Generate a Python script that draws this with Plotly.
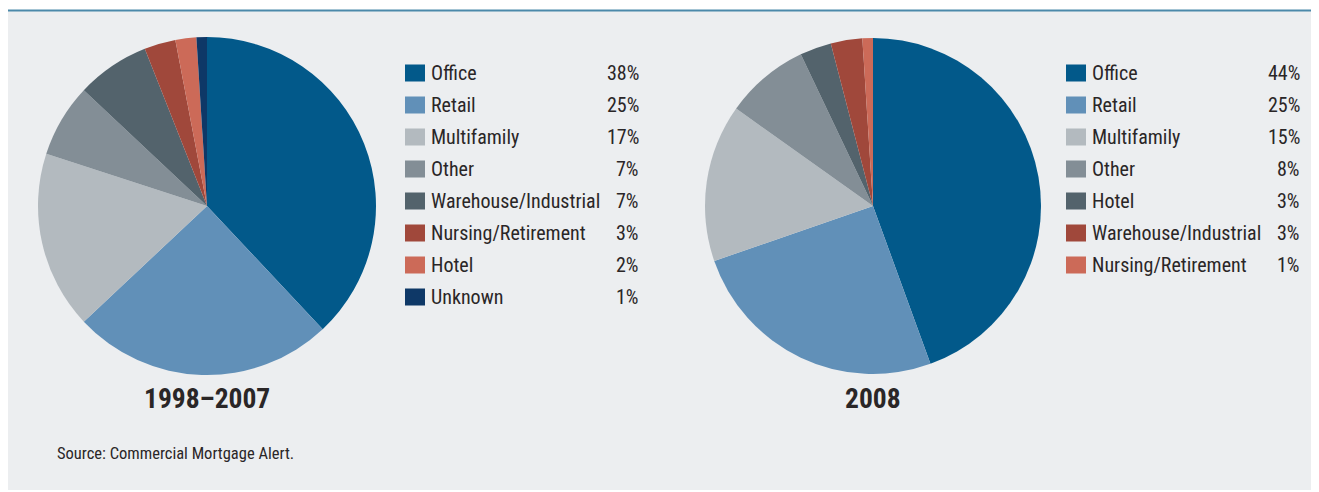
import plotly.graph_objects as go

# Page body adds an 8px margin, so the figure is placed at (8, 8) in the window.
OFF = 8
W, H = 1319 - OFF, 492 - OFF

labels_a = ["Office", "Retail", "Multifamily", "Other", "Warehouse/Industrial",
            "Nursing/Retirement", "Hotel", "Unknown"]
values_a = [38, 25, 17, 7, 7, 3, 2, 1]
colors_a = ["#02598a", "#6190b8", "#b3babf", "#838e96", "#53636c", "#a0483b", "#cc6a58", "#0e3867"]

labels_b = ["Office", "Retail", "Multifamily", "Other", "Hotel",
            "Warehouse/Industrial", "Nursing/Retirement"]
values_b = [44, 25, 15, 8, 3, 3, 1]
colors_b = ["#02598a", "#6190b8", "#b3babf", "#838e96", "#53636c", "#a0483b", "#cc6a58"]

titles = ["1998\u20132007", "2008"]
source = "Source: Commercial Mortgage Alert."

FONT = "Roboto Condensed, Liberation Sans Narrow, Roboto, sans-serif"
BG = "#eceef0"
TXT = "#2a2627"


def px(x):
    return (x - OFF) / W


def py(y):
    return 1 - (y - OFF) / H


fig = go.Figure()

pies = [
    (labels_a, values_a, colors_a, (207, 206), 169, 405, 641),
    (labels_b, values_b, colors_b, (873, 206), 168, 1066, 1302),
]

shapes = [
    dict(type="rect", xref="paper", yref="paper", x0=0, x1=1, y0=py(490), y1=py(11),
         fillcolor=BG, line=dict(width=0), layer="below"),
    dict(type="line", xref="paper", yref="paper", x0=0, x1=1, y0=py(10.5), y1=py(10.5),
         line=dict(color="#4b89aa", width=2)),
]
annotations = []

for i, (labs, vals, cols, (cx, cy), r, lx, rx) in enumerate(pies):
    fig.add_trace(go.Pie(
        labels=labs, values=vals, sort=False, direction="clockwise", rotation=0,
        marker=dict(colors=cols, line=dict(width=0)),
        textinfo="none", hoverinfo="label+percent", showlegend=False,
        domain=dict(x=[px(cx - r), px(cx + r)], y=[py(cy + r), py(cy - r)]),
    ))
    annotations.append(dict(
        x=px(cx), y=py(398), xref="paper", yref="paper", text="<b>%s</b>" % titles[i],
        showarrow=False, xanchor="center", yanchor="middle",
        font=dict(family=FONT, size=27.5, color=TXT)))
    for j, (lab, val, col) in enumerate(zip(labs, vals, cols)):
        yc = 73 + 32 * j
        shapes.append(dict(type="rect", xref="paper", yref="paper",
                           x0=px(lx), x1=px(lx + 20), y0=py(yc + 8.5), y1=py(yc - 8.5),
                           fillcolor=col, line=dict(width=0)))
        annotations.append(dict(
            x=px(lx + 24), y=py(yc), xref="paper", yref="paper", text=lab,
            showarrow=False, xanchor="left", yanchor="middle",
            font=dict(family=FONT, size=20, color=TXT)))
        annotations.append(dict(
            x=px(rx), y=py(yc), xref="paper", yref="paper", text="%d%%" % val,
            showarrow=False, xanchor="right", yanchor="middle",
            font=dict(family=FONT, size=20, color=TXT)))

annotations.append(dict(
    x=px(55), y=py(453), xref="paper", yref="paper", text=source,
    showarrow=False, xanchor="left", yanchor="middle",
    font=dict(family=FONT, size=16.5, color=TXT)))

fig.update_layout(
    width=W, height=H, margin=dict(l=0, r=0, t=0, b=0),
    paper_bgcolor="white", plot_bgcolor="white",
    shapes=shapes, annotations=annotations,
)

fig.write_html("out.html")
